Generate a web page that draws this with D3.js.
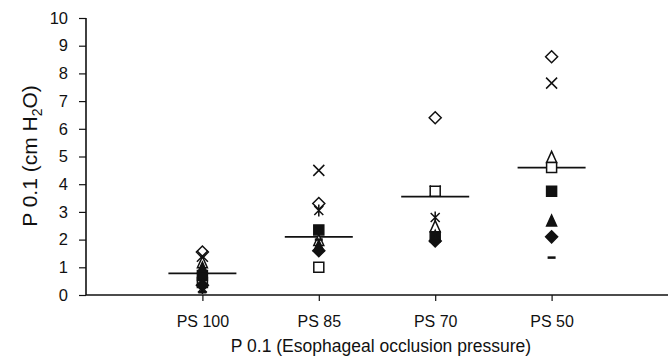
<!DOCTYPE html>
<html><head><meta charset="utf-8">
<script src="https://cdn.jsdelivr.net/npm/d3@7"></script>
<style>body{margin:0;background:#fff}svg{display:block}text{font-family:"Liberation Sans",Arial,sans-serif;fill:#111}</style>
</head><body><svg id="c" width="672" height="357"></svg>
<script>
const categories = ["PS 100", "PS 85", "PS 70", "PS 50"];
const yTicks = [0,1,2,3,4,5,6,7,8,9,10];
const diamondOpen    = [1.55, 3.3, 6.4, 8.6];
const crossX         = [1.4, 4.5, 3.75, 7.65];
const asterisk       = [0.25, 3.05, 2.8, null];
const triangleOpen   = [1.15, 1.95, 2.45, 4.95];
const squareOpen     = [0.45, 1.0, 3.75, 4.6];
const squareFilled   = [0.7, 2.35, 2.1, 3.75];
const triangleFilled = [0.95, 1.75, 2.1, 2.65];
const diamondFilled  = [0.35, 1.6, 1.95, 2.1];
const dash           = [0.1, 2.0, 1.95, 1.35];
const means          = [0.78, 2.1, 3.55, 4.6];

const series = [
  {v: diamondOpen, shape: "diamond", fill: false},
  {v: crossX, shape: "x", fill: false},
  {v: asterisk, shape: "ast", fill: false},
  {v: triangleOpen, shape: "tri", fill: false},
  {v: squareOpen, shape: "sq", fill: false},
  {v: squareFilled, shape: "sq", fill: true},
  {v: triangleFilled, shape: "tri", fill: true},
  {v: diamondFilled, shape: "diamond", fill: true},
  {v: dash, shape: "dash", fill: false}
];
const shapes = {
  diamond: "M0,-6L6,0L0,6L-6,0Z",
  x: "M-5.5,-5.5L5.5,5.5M-5.5,5.5L5.5,-5.5",
  ast: "M-4.5,-4.5L4.5,4.5M-4.5,4.5L4.5,-4.5M0,-6L0,6",
  tri: "M0,-6.5L5,4.5L-5,4.5Z",
  sq: "M-5,-5H5V5H-5Z",
  dash: "M-4,0H4"
};

const svg = d3.select("#c");
const x = d3.scalePoint().domain(categories).range([86, 668]).padding(1);
const y = d3.scaleLinear().domain([0, 10]).range([295, 18]);

// y axis
const ya = svg.append("g").attr("transform","translate(86,0)")
  .call(d3.axisLeft(y).tickValues(yTicks).tickSize(7).tickPadding(11));
ya.select(".domain").attr("stroke","#111").attr("stroke-width",1.6).attr("d","M0,18V295");
ya.selectAll(".tick line").attr("stroke","#111").attr("stroke-width",1.2);
ya.selectAll(".tick text").attr("font-size",16.5).style("font-family","Liberation Sans, Arial, sans-serif").attr("fill","#111");

// x axis
const xa = svg.append("g").attr("transform","translate(0,295)")
  .call(d3.axisBottom(x).tickSize(6).tickPadding(15));
xa.select(".domain").attr("stroke","#111").attr("stroke-width",1.6).attr("d","M86,0H668");
xa.selectAll(".tick line").attr("stroke","#111").attr("stroke-width",1.2);
xa.selectAll(".tick text").attr("font-size",16).style("font-family","Liberation Sans, Arial, sans-serif").attr("fill","#111");

// mean lines
svg.append("g").selectAll("line").data(means).join("line")
  .attr("x1",(d,i)=>x(categories[i])-34).attr("x2",(d,i)=>x(categories[i])+34)
  .attr("y1",d=>y(d)).attr("y2",d=>y(d)).attr("stroke","#111").attr("stroke-width",1.6);

// markers
series.forEach(s=>{
  svg.append("g").selectAll("path").data(s.v.map((v,i)=>({v,i})).filter(d=>d.v!=null)).join("path")
    .attr("transform",d=>`translate(${x(categories[d.i])},${y(d.v)})`)
    .attr("d",shapes[s.shape])
    .attr("fill", s.fill ? "#111" : (s.shape==="x"||s.shape==="ast"||s.shape==="dash" ? "none" : "#fff"))
    .attr("stroke","#111")
    .attr("stroke-width", s.shape==="dash" ? 2.5 : 1.5);
});

// titles
svg.append("text").attr("x",381).attr("y",352).attr("text-anchor","middle").attr("font-size",17.5)
  .text("P 0.1 (Esophageal occlusion pressure)");
const yt = svg.append("text").attr("transform","translate(37,156) rotate(-90)").attr("text-anchor","middle").attr("font-size",21);
yt.append("tspan").text("P 0.1 (cm H");
yt.append("tspan").attr("font-size",14).attr("dy",5).text("2");
yt.append("tspan").attr("dy",-5).text("O)");
</script></body></html>
